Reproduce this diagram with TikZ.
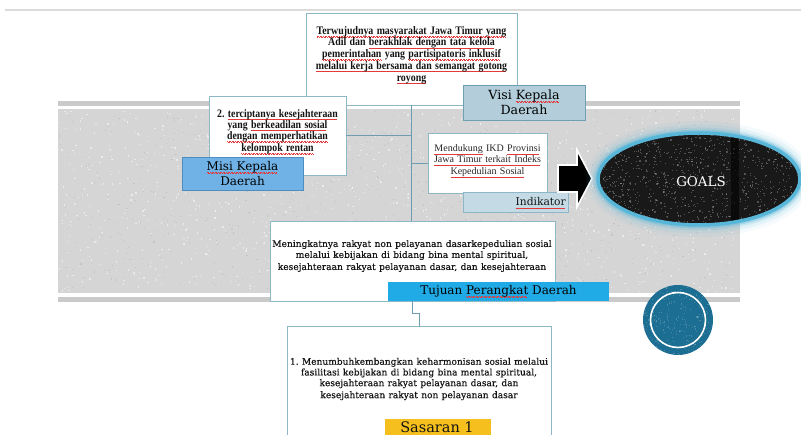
\documentclass[tikz,border=0pt]{standalone}
\usepackage{fontspec}
\setmainfont{Liberation Serif}
\newfontfamily\slab{DejaVu Serif}
\newfontfamily\slabbody{DejaVu Serif}[FakeBold=0.3]
\newfontfamily\narrowbold{Liberation Serif}[FakeStretch=0.86]
\frenchspacing
\definecolor{spell}{HTML}{E23A3A}
% red spell-check style wavy underline
\newsavebox\wavybox
\newcommand\wavy[1]{\leavevmode\sbox\wavybox{#1}%
  \rlap{\smash{\color{spell}\leaders\hbox{\rule[-2.1pt]{0.8pt}{0.45pt}\rule[-2.6pt]{0.8pt}{0.45pt}}\hskip\wd\wavybox}}%
  \usebox\wavybox}
\definecolor{conn}{HTML}{6E9DB2}
\definecolor{boxline}{HTML}{8DB7C7}
\definecolor{visifill}{HTML}{B3CEDA}
\definecolor{visiline}{HTML}{6F9FB3}
\definecolor{misifill}{HTML}{70B2E5}
\definecolor{misiline}{HTML}{4F8DBE}
\definecolor{indfill}{HTML}{C4DAE5}
\definecolor{tujuanfill}{HTML}{21ABE6}
\definecolor{sasaranfill}{HTML}{F5BF1D}
\definecolor{bandgray}{HTML}{D5D5D5}
\definecolor{glow}{HTML}{58B6D8}
\definecolor{badge}{HTML}{1C6E92}
\begin{document}
\begin{tikzpicture}[x=1pt,y=-1pt,
  textbox/.style={draw=boxline,fill=white,line width=0.8pt,inner sep=0pt,outer sep=0pt,anchor=north west},
  labelbox/.style={line width=0.8pt,inner sep=0pt,outer sep=0pt,anchor=north west,align=center},
  conn/.style={draw=conn,line width=0.9pt},
  txt/.style={inner sep=0pt,align=center,text=black!92}]
\useasboundingbox (0,0) rectangle (801,435);
\clip (0,0) rectangle (801,435);
\fill[white] (0,0) rectangle (801,435);

% thin rule along the top
\fill[black!14] (5,8.7) rectangle (801,11.5);

% textured gray band
\fill[bandgray!95!black] (58,101.5) rectangle (740,106.5);
\fill[bandgray] (58,109.5) rectangle (740,293);
\fill[bandgray!95!black] (58,297.5) rectangle (740,302.5);
\pgfmathsetseed{11}
\foreach \i in {1,...,1100}{
  \pgfmathsetmacro\px{58+rnd*680}
  \pgfmathsetmacro\py{110+rnd*181}
  \fill[white,opacity=0.5] (\px,\py) rectangle +(1.3,1.3);
}
\foreach \i in {1,...,700}{
  \pgfmathsetmacro\px{58+rnd*680}
  \pgfmathsetmacro\py{110+rnd*181}
  \fill[black!35,opacity=0.35] (\px,\py) rectangle +(1.1,1.1);
}

% vision statement
\node[textbox,minimum width=211pt,minimum height=92pt] (vision) at (306,13) {};
\node[txt,text width=208pt] (visionText) at (411.5,55)
  {\narrowbold\bfseries\fontsize{11.5}{10.4}\selectfont
   \wavy{Terwujudnya masyarakat Jawa Timur yang}\\
   Adil dan \wavy{berakhlak dengan tata kelola}\\
   \wavy{pemerintahan} yang \wavy{partisipatoris inklusif}\\
   \wavy{melalui kerja bersama dan semangat gotong}\\
   \wavy{royong}};

% mission
\node[textbox,minimum width=137pt,minimum height=79pt] (mission) at (209,96) {};
\node[txt,text width=135pt] (missionText) at (277.5,131.5)
  {\narrowbold\bfseries\fontsize{11.4}{11.2}\selectfont
   2. \wavy{terciptanya kesejahteraan}\\
   yang \wavy{berkeadilan sosial}\\
   \wavy{dengan memperhatikan}\\
   \wavy{kelompok rentan}};

% indicator
\node[textbox,minimum width=119pt,minimum height=60pt] (indicator) at (428,133) {};
\node[txt,text width=116pt,text=black!85] (indicatorText) at (487.5,161)
  {\fontsize{10}{11}\selectfont
   \wavy{Mendukung} IKD \wavy{Provinsi}\\
   \wavy{Jawa Timur terkait Indeks}\\
   \wavy{Kepedulian Sosial}};

% purpose
\node[textbox,minimum width=285pt,minimum height=80pt] (purpose) at (270,221) {};
\node[txt,text width=283pt] (purposeText) at (412,256)
  {\slabbody\fontsize{9.1}{11}\selectfont
   Meningkatnya rakyat non pelayanan dasarkepedulian sosial\\
   melalui kebijakan di bidang bina mental spiritual,\\
   kesejahteraan rakyat pelayanan dasar, dan kesejahteraan};

% target
\node[textbox,minimum width=264pt,minimum height=120pt] (target) at (287,326) {};
\node[txt,text width=262pt] (targetText) at (419,379)
  {\slabbody\fontsize{9.05}{10.7}\selectfont
   1. Menumbuhkembangkan keharmonisan sosial melalui\\
   fasilitasi kebijakan di bidang bina mental spiritual,\\
   kesejahteraan rakyat pelayanan dasar, dan\\
   kesejahteraan rakyat non pelayanan dasar};

% connectors
\draw[conn] (vision.south) -- (vision.south |- purpose.north);
\draw[conn] (mission.east -| vision.south) -- (mission.east);
\draw[conn] (indicator.west -| vision.south) -- (indicator.west);
\draw[conn] (purpose.south) -- ++(0,12) -| (target.north);

% section labels
\node[labelbox,draw=visiline,fill=visifill,minimum width=122pt,minimum height=35pt,
      font=\slab\fontsize{12.6}{15.5}\selectfont] (visiLabel) at (463,85)
  {Visi \wavy{Kepala}\\Daerah};
\node[labelbox,draw=misiline,fill=misifill,minimum width=121pt,minimum height=33pt,
      font=\slab\fontsize{12}{14.5}\selectfont] (misiLabel) at (182,157)
  {\wavy{Misi Kepala}\\Daerah};
\node[labelbox,draw=boxline,fill=indfill,minimum width=105pt,minimum height=20pt] (indikatorLabel) at (463,192) {};
\node[txt,anchor=east,font=\slab\fontsize{10.7}{12}\selectfont] (indikatorText) at (566,202)
  {\wavy{Indikator}};
\node[labelbox,fill=tujuanfill,minimum width=221pt,minimum height=19pt,
      font=\slab\fontsize{12}{13}\selectfont] (tujuanLabel) at (388,282)
  {Tujuan \wavy{Perangkat} Daerah};
\node[labelbox,fill=sasaranfill,minimum width=106pt,minimum height=24pt] (sasaranLabel) at (385,419) {};
\node[txt,font=\slab\fontsize{14.5}{16}\selectfont] (sasaranText) at (437,427) {Sasaran 1};

% block arrow towards the goals
\filldraw[fill=black,draw=white,line width=1.6pt,line join=miter]
  (558,165) -- (577,165) -- (577,150) -- (592,178.5) -- (577,207) -- (577,192) -- (558,192) -- cycle;

% goals ellipse with glow
\foreach \w/\o in {24/0.06,17/0.1,11/0.18,7/0.35}{
  \draw[glow,line width=\w pt,opacity=\o] (699,179) ellipse [x radius=101,y radius=46];
}
\fill[black!90] (699,179) ellipse [x radius=101,y radius=46];
\begin{scope}
  \clip (699,179) ellipse [x radius=101,y radius=46];
  \foreach \i in {1,...,900}{
    \pgfmathsetmacro\px{598+rnd*202}
    \pgfmathsetmacro\py{133+rnd*92}
    \fill[white,opacity=0.25] (\px,\py) rectangle +(1.2,1.2);
  }
  \fill[black,opacity=0.6] (731,130) rectangle (739,230);
\end{scope}
\draw[glow,line width=3.5pt] (699,179) ellipse [x radius=101,y radius=46];
\node[txt,text=white,font=\slab\fontsize{13.4}{15}\selectfont] (goals) at (701,182) {GOALS};

% round badge
\fill[badge] (678,320) circle [radius=35];
\begin{scope}
  \clip (678,320) circle [radius=35];
  \foreach \i in {1,...,250}{
    \pgfmathsetmacro\px{643+rnd*70}
    \pgfmathsetmacro\py{285+rnd*70}
    \fill[white,opacity=0.18] (\px,\py) rectangle +(1.1,1.1);
  }
\end{scope}
\draw[white,line width=1.6pt] (678,320) circle [radius=27.5];
\node[inner sep=0pt,minimum size=70pt,circle] (badgeNode) at (678,320) {};
\end{tikzpicture}
\end{document}
